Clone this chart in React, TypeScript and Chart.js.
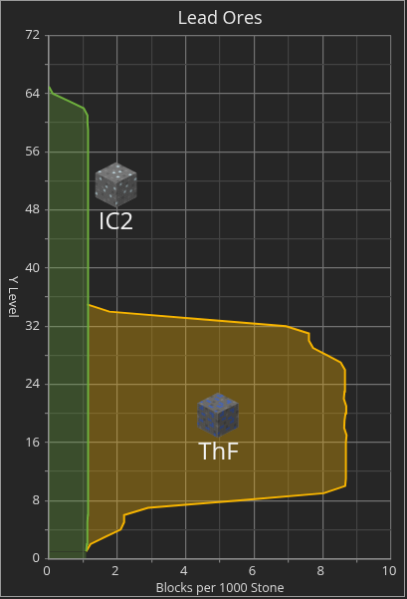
import React, { useEffect, useRef } from "react";
import { Chart, registerables } from "chart.js";

Chart.register(...registerables);

const TITLE = "Lead Ores";
const X_TITLE = "Blocks per 1000 Stone";
const Y_TITLE = "Y Level";
const FONT = "'Open Sans', sans-serif";

const ic2Levels = [0,1,2,3,4,5,6,7,8,9,10,11,12,13,14,15,16,17,18,19,20,21,22,23,24,25,26,27,28,29,30,31,32,33,34,35,36,37,38,39,40,41,42,43,44,45,46,47,48,49,50,51,52,53,54,55,56,57,58,59,60,61,62,63,64,65];
const ic2Values = [1.09,1.09,1.11,1.12,1.13,1.13,1.14,1.14,1.14,1.15,1.15,1.15,1.15,1.15,1.15,1.15,1.15,1.15,1.15,1.16,1.16,1.16,1.15,1.15,1.15,1.14,1.14,1.14,1.14,1.14,1.15,1.15,1.15,1.14,1.14,1.14,1.14,1.14,1.14,1.15,1.15,1.15,1.16,1.16,1.16,1.16,1.15,1.15,1.15,1.15,1.15,1.15,1.15,1.15,1.15,1.14,1.14,1.14,1.14,1.14,1.13,1.13,1.02,0.57,0.12,0];

const thfLevels = [1,2,3,4,5,6,7,8,9,10,11,12,13,14,15,16,17,18,19,20,21,22,23,24,25,26,27,28,29,30,31,32,33,34,35];
const thfValues = [1.09,1.22,1.65,2.1,2.2,2.2,2.9,5.5,8.03,8.66,8.68,8.68,8.68,8.68,8.68,8.68,8.7,8.63,8.64,8.67,8.69,8.62,8.64,8.65,8.65,8.66,8.53,8.13,7.72,7.6,7.6,6.93,4.35,1.77,1.12];

const xTicks = [0,1,2,3,4,5,6,7,8,9,10];

const ic2Texture = ["...#.....+","..*...+...","+....#...*",".....*....","#..+....#.","....*.....",".+.....*.+","...#......","*.....+..#","....+....."];
const thfTexture = ["..*.#...+.",".**...**..","....+..*..","#.**.....#",".....**...","+..#...*.+",".**...**..","....#.....","*...**..#.",".+......*."];

const PALETTES: Record<string, Record<string, string>> = {
  ic2: { ".": "#7c7c7c", "#": "#686868", "+": "#8c8c8c", "*": "#c8dfe6" },
  thf: { ".": "#6e6e6e", "#": "#5c5c5c", "+": "#7e7e7e", "*": "#4a68b8" },
};

function drawFace(
  ctx: CanvasRenderingContext2D,
  ox: number, oy: number,
  ux: number, uy: number, vx: number, vy: number,
  grid: string[], pal: Record<string, string>, shade: number
) {
  const n = grid.length;
  for (let r = 0; r < n; r++) {
    for (let c = 0; c < n; c++) {
      const a = { x: ox + (ux * c + vx * r) / n, y: oy + (uy * c + vy * r) / n };
      ctx.beginPath();
      ctx.moveTo(a.x, a.y);
      ctx.lineTo(a.x + ux / n, a.y + uy / n);
      ctx.lineTo(a.x + ux / n + vx / n, a.y + uy / n + vy / n);
      ctx.lineTo(a.x + vx / n, a.y + vy / n);
      ctx.closePath();
      ctx.fillStyle = pal[grid[r][c]];
      ctx.strokeStyle = pal[grid[r][c]];
      ctx.lineWidth = 0.4;
      ctx.fill();
      ctx.stroke();
    }
  }
  ctx.beginPath();
  ctx.moveTo(ox, oy);
  ctx.lineTo(ox + ux, oy + uy);
  ctx.lineTo(ox + ux + vx, oy + uy + vy);
  ctx.lineTo(ox + vx, oy + vy);
  ctx.closePath();
  ctx.fillStyle = `rgba(0,0,0,${shade})`;
  ctx.fill();
}

function drawCube(ctx: CanvasRenderingContext2D, cx: number, top: number, grid: string[], pal: Record<string, string>) {
  const hw = 20.5, hh = 10.5, side = 24;
  ctx.save();
  ctx.filter = "blur(0.5px)";
  drawFace(ctx, cx, top, hw, hh, -hw, hh, grid, pal, 0);
  drawFace(ctx, cx - hw, top + hh, hw, hh, 0, side, grid, pal, 0.25);
  drawFace(ctx, cx, top + 2 * hh, hw, -hh, 0, side, grid, pal, 0.38);
  ctx.restore();
}

const annotations = {
  id: "annotations",
  afterDatasetsDraw(chart: any) {
    const { ctx } = chart;
    ctx.save();
    drawCube(ctx, 115.5, 162, ic2Texture, PALETTES.ic2);
    drawCube(ctx, 218, 393, thfTexture, PALETTES.thf);
    ctx.fillStyle = "#f2f2f2";
    ctx.textAlign = "center";
    ctx.textBaseline = "middle";
    ctx.font = `24px ${FONT}`;
    ctx.fillText("IC2", 115.5, 222.5);
    ctx.fillText("ThF", 218.5, 453.5);
    ctx.font = `13px ${FONT}`;
    ctx.fillStyle = "#d8d8d8";
    ctx.translate(12, 297);
    ctx.rotate(Math.PI / 2);
    ctx.fillText(Y_TITLE, 0, 0);
    ctx.restore();
  },
};

export default function App() {
  const ref = useRef<HTMLCanvasElement>(null);
  useEffect(() => {
    document.body.style.margin = "0";
    document.body.style.background = "#262626";
    const chart = new Chart(ref.current!, {
      type: "line",
      plugins: [annotations],
      data: {
        datasets: [
          {
            label: "IC2",
            data: ic2Levels.map((y, i) => ({ x: ic2Values[i], y })),
            borderColor: "#6fb03e",
            backgroundColor: "rgba(106,170,60,0.3)",
            borderWidth: 2,
            pointRadius: 0,
            fill: "origin",
            tension: 0,
            segment: {
              borderColor: (c: any) => (c.p0DataIndex === 0 ? "transparent" : undefined),
            },
          },
          {
            label: "ThF",
            data: thfLevels.map((y, i) => ({ x: thfValues[i], y })),
            borderColor: "#f7b500",
            backgroundColor: "rgba(245,180,0,0.33)",
            borderWidth: 2,
            pointRadius: 0,
            fill: 0,
            tension: 0,
          },
        ],
      },
      options: {
        indexAxis: "y",
        animation: false,
        responsive: false,
        devicePixelRatio: 1,
        layout: { padding: { top: 0, right: 13, bottom: 0, left: 0 } },
        plugins: {
          legend: { display: false },
          tooltip: { enabled: false },
          title: {
            display: true,
            text: TITLE,
            fullSize: false,
            color: "#e8e8e8",
            font: { family: FONT, size: 18, weight: "normal" },
            padding: { top: 7, bottom: 6 },
          },
        },
        scales: {
          x: {
            type: "linear",
            min: 0,
            max: 10,
            afterFit: (s: any) => { s.height = 37.5; },
            afterBuildTicks: (s: any) => { s.ticks = xTicks.map((value) => ({ value })); },
            grid: {
              color: (c: any) => (c.tick.value % 2 === 0 ? "#747474" : "#444444"),
              tickColor: (c: any) => (c.tick.value % 2 === 0 ? "transparent" : "#808080"),
              tickLength: 4,
              lineWidth: 1.2,
            },
            border: { color: "#909090", width: 1.5 },
            ticks: {
              color: "#d8d8d8",
              autoSkip: false,
              maxRotation: 0,
              labelOffset: -2,
              padding: 1,
              font: { family: FONT, size: 13 },
              callback: (v: any) => (v % 2 === 0 ? String(v) : ""),
            },
            title: {
              display: true,
              text: X_TITLE,
              color: "#d8d8d8",
              font: { family: FONT, size: 12.5 },
              padding: { top: 0, bottom: 0 },
            },
          },
          y: {
            type: "linear",
            min: 0,
            max: 72,
            afterFit: (s: any) => { s.width = 48; },
            afterBuildTicks: (s: any) => {
              s.ticks = Array.from({ length: 19 }, (_, i) => ({ value: i * 4 }));
            },
            grid: {
              color: (c: any) => (c.tick.value % 8 === 0 ? "#747474" : "#444444"),
              tickColor: (c: any) => (c.tick.value % 8 === 0 ? "#747474" : "#808080"),
              tickLength: 4,
              lineWidth: 1.2,
            },
            border: { color: "#909090", width: 1.5 },
            ticks: {
              color: "#d8d8d8",
              autoSkip: false,
              padding: 5,
              font: { family: FONT, size: 13 },
              callback: (v: any) => (v % 8 === 0 ? String(v) : ""),
            },
          },
        },
      },
    } as any);
    return () => chart.destroy();
  }, []);
  return (
    <canvas
      ref={ref}
      width={405}
      height={597}
      style={{ display: "block", width: 405, height: 597, border: "1px solid #9a9a9a", background: "#262626" }}
    />
  );
}
